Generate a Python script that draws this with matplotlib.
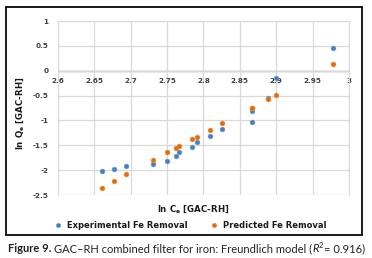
import matplotlib
matplotlib.use('Agg')
import matplotlib.pyplot as plt
from matplotlib.patches import Rectangle

# ln Ce values and ln Qe values (experimental / predicted)
ln_ce = [2.660, 2.677, 2.694, 2.7305, 2.7496, 2.7627, 2.7668, 2.784, 2.7905,
         2.8087, 2.826, 2.866, 2.867, 2.888, 2.899, 2.978]
exp_qe = [-2.02, -1.97, -1.91, -1.87, -1.81, -1.72, -1.63, -1.54, -1.43,
          -1.31, -1.17, -1.03, -0.81, -0.55, -0.15, 0.45]
pred_qe = [-2.35, -2.21, -2.07, -1.79, -1.64, -1.56, -1.51, -1.38, -1.33,
           -1.19, -1.05, -0.75, -0.74, -0.57, -0.48, 0.13]

x_ticks = [2.6, 2.65, 2.7, 2.75, 2.8, 2.85, 2.9, 2.95, 3.0]
x_labels = ['2.6', '2.65', '2.7', '2.75', '2.8', '2.85', '2.9', '2.95', '3']
y_ticks = [-2.5, -2, -1.5, -1, -0.5, 0, 0.5, 1]
y_labels = ['-2.5', '-2', '-1.5', '-1', '-0.5', '0', '0.5', '1']

W, H = 372, 258
fig = plt.figure(figsize=(W / 100, H / 100), dpi=100)

def fx(px):
    return px / W

def fy(py):
    return 1 - py / H

# outer chart border
fig.patches.append(Rectangle((fx(6), fy(235)), fx(362) - fx(6), fy(7) - fy(235),
                             transform=fig.transFigure, fill=False,
                             edgecolor='#1a1a1a', linewidth=1.4))

ax = fig.add_axes([fx(58), fy(195), fx(349) - fx(58), fy(21) - fy(195)])
ax.set_xlim(2.6, 3.0)
ax.set_ylim(-2.5, 1)
grid_c = '#d9d9d9'
ax.grid(True, color=grid_c, linewidth=0.9)
ax.set_axisbelow(True)
for s in ['top', 'right', 'left']:
    ax.spines[s].set_color(grid_c)
ax.spines['bottom'].set_position(('data', 0))
ax.spines['bottom'].set_color('#9a9a9a')
ax.spines['bottom'].set_linewidth(1.0)
ax.spines['bottom'].set_zorder(0.5)

ax.set_xticks(x_ticks)
ax.set_xticklabels(x_labels)
ax.set_yticks(y_ticks)
ax.set_yticklabels(y_labels)
ax.tick_params(length=0, labelsize=5.2, labelcolor='#404040')
ax.tick_params(axis='x', pad=5)
ax.tick_params(axis='y', pad=7)
for lab in ax.get_xticklabels() + ax.get_yticklabels():
    lab.set_fontweight('bold')

blue = '#4a7ebb'
orange = '#e36c0a'
ax.scatter(ln_ce, exp_qe, s=12, color=blue, edgecolors='#6a9bd6', linewidths=0.4,
           zorder=3, label='Experimental Fe Removal')
ax.scatter(ln_ce, pred_qe, s=12, color=orange, edgecolors='#f08a3a', linewidths=0.4,
           zorder=3, label='Predicted Fe Removal')

fig.text(fx(193), fy(209), r'ln C$_{\mathbf{e}}$ [GAC-RH]', fontsize=6.2,
         fontweight='bold', ha='center', va='center', color='#1a1a1a')
fig.text(fx(20), fy(113), r'ln Q$_{\mathbf{e}}$ [GAC-RH]', fontsize=6.2,
         fontweight='bold', ha='center', va='center', rotation=90, color='#1a1a1a')

leg = ax.legend(loc='center', bbox_to_anchor=(fx(188), fy(225)),
                bbox_transform=fig.transFigure, ncol=2, frameon=False,
                fontsize=6, handletextpad=0.1, columnspacing=2.2,
                markerscale=0.9, borderpad=0)
for t in leg.get_texts():
    t.set_fontweight('bold')
    t.set_color('#1a1a1a')

# caption
cap_y = fy(249)
fs = 8.0
t1 = fig.text(fx(8), cap_y, 'Figure 9.', fontsize=fs, fontweight='bold',
              family='Lato', va='center', color='#222222')
fig.canvas.draw()
r = fig.canvas.get_renderer()
bb = t1.get_window_extent(r)
x = bb.x1 + 3
t2 = fig.text(x / W, cap_y, 'GAC\u2013RH combined filter for iron: Freundlich model (',
              fontsize=fs, family='Lato', va='center', color='#222222')
bb = t2.get_window_extent(r)
t3 = fig.text(bb.x1 / W, cap_y, 'R', fontsize=fs, family='Lato', style='italic',
              va='center', color='#222222')
bb = t3.get_window_extent(r)
t4 = fig.text(bb.x1 / W, cap_y + 0.012, '2', fontsize=5.2, family='Lato',
              va='center', color='#222222')
bb = t4.get_window_extent(r)
fig.text(bb.x1 / W + 0.003, cap_y, '= 0.916)', fontsize=fs, family='Lato',
         va='center', color='#222222')

fig.savefig('out.png', dpi=100)
